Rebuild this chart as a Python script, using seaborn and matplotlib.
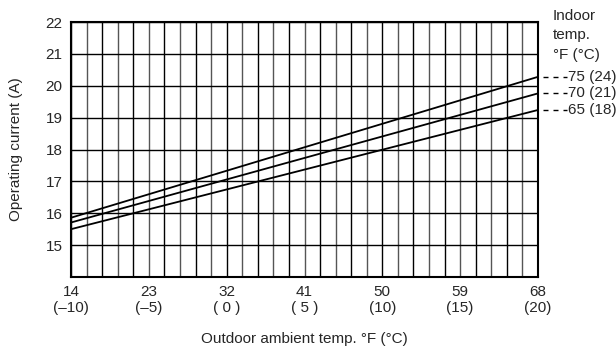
import numpy as np
import pandas as pd
import matplotlib.pyplot as plt
import seaborn as sns

# outdoor ambient temp (°F) at the two ends of each straight line
outdoor_f = [14, 68]
indoor_labels = ["75 (24)", "70 (21)", "65 (18)"]
current_75 = [15.86, 20.28]
current_70 = [15.71, 19.76]
current_65 = [15.50, 19.24]

xtick_f = [14, 23, 32, 41, 50, 59, 68]
xtick_c = ["(–10)", "(–5)", "( 0 )", "( 5 )", "(10)", "(15)", "(20)"]
yticks = [15, 16, 17, 18, 19, 20, 21, 22]

rows = []
for lab, vals in zip(indoor_labels, [current_75, current_70, current_65]):
    for x, v in zip(outdoor_f, vals):
        rows.append({"outdoor": x, "current": v, "indoor": lab})
df = pd.DataFrame(rows)

sns.set_style("white")
plt.rcParams["font.family"] = ["Liberation Sans", "DejaVu Sans"]
plt.rcParams["font.size"] = 11

fig = plt.figure(figsize=(6.16, 3.51), dpi=100)
ax = fig.add_axes([71 / 616, 1 - 277 / 351, (538 - 71) / 616, (277 - 22) / 351])

# grid: every 1 °C (1.8 °F) vertically, every 1 A horizontally
for i, gx in enumerate(np.arange(14, 68.01, 1.8)):
    ax.axvline(gx, color="black" if i % 2 == 0 else "#555555", lw=1.0, zorder=1)
for gy in range(14, 23):
    ax.axhline(gy, color="black", lw=1.0, zorder=1)

sns.lineplot(data=df, x="outdoor", y="current", hue="indoor",
             palette=["black"] * 3, legend=False, lw=1.3, ax=ax, zorder=3)

ax.set_xlim(14, 68)
ax.set_ylim(14, 22)
ax.set_xticks(xtick_f)
ax.set_xticklabels([f"{f}\n{c}" for f, c in zip(xtick_f, xtick_c)], linespacing=1.15)
ax.set_yticks(yticks)
ax.tick_params(length=0, pad=6)
for s in ax.spines.values():
    s.set_color("black")
    s.set_linewidth(1.5)

ax.set_xlabel("Outdoor ambient temp. °F (°C)", labelpad=12)
ax.set_ylabel("Operating current (A)", labelpad=16)

# line labels on the right
for lab, vals in zip(indoor_labels, [current_75, current_70, current_65]):
    y = vals[-1]
    ax.plot([68, 71.4], [y, y], color="black", lw=1.0, ls=(3.6, (3.6, 3.6)), clip_on=False)
    ax.text(71.45, y, lab, va="center", ha="left")
ax.text(69.7, 22.42, "Indoor\ntemp.\n°F (°C)", va="top", ha="left", linespacing=1.5)

fig.savefig("out.png", dpi=100)
